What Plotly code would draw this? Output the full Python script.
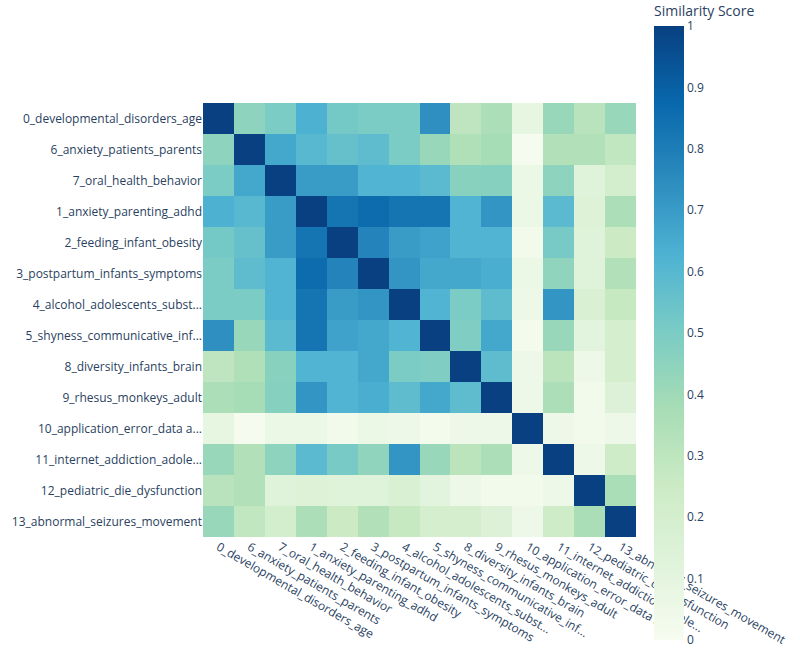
import plotly.graph_objects as go

# Topic labels, in the order they appear on both axes
topics = [
    "0_developmental_disorders_age",
    "6_anxiety_patients_parents",
    "7_oral_health_behavior",
    "1_anxiety_parenting_adhd",
    "2_feeding_infant_obesity",
    "3_postpartum_infants_symptoms",
    "4_alcohol_adolescents_subst...",
    "5_shyness_communicative_inf...",
    "8_diversity_infants_brain",
    "9_rhesus_monkeys_adult",
    "10_application_error_data a...",
    "11_internet_addiction_adole...",
    "12_pediatric_die_dysfunction",
    "13_abnormal_seizures_movement",
]

# Similarity scores (row = y label, column = x label)
similarity = [
    [1.00, 0.45, 0.50, 0.63, 0.52, 0.50, 0.50, 0.74, 0.30, 0.36, 0.09, 0.42, 0.32, 0.42],
    [0.45, 1.00, 0.66, 0.60, 0.56, 0.58, 0.50, 0.42, 0.35, 0.38, 0.01, 0.34, 0.34, 0.29],
    [0.50, 0.66, 1.00, 0.70, 0.70, 0.62, 0.62, 0.59, 0.46, 0.47, 0.06, 0.45, 0.13, 0.21],
    [0.63, 0.60, 0.70, 1.00, 0.83, 0.86, 0.83, 0.83, 0.62, 0.72, 0.06, 0.59, 0.14, 0.36],
    [0.52, 0.56, 0.70, 0.83, 1.00, 0.78, 0.70, 0.68, 0.62, 0.62, 0.03, 0.51, 0.13, 0.25],
    [0.50, 0.58, 0.62, 0.86, 0.78, 1.00, 0.72, 0.66, 0.66, 0.64, 0.06, 0.44, 0.13, 0.34],
    [0.50, 0.50, 0.62, 0.83, 0.70, 0.72, 1.00, 0.62, 0.50, 0.58, 0.05, 0.72, 0.17, 0.27],
    [0.74, 0.42, 0.59, 0.83, 0.68, 0.66, 0.62, 1.00, 0.49, 0.66, 0.02, 0.42, 0.11, 0.20],
    [0.30, 0.35, 0.46, 0.62, 0.62, 0.66, 0.50, 0.49, 1.00, 0.58, 0.05, 0.31, 0.05, 0.20],
    [0.36, 0.38, 0.47, 0.72, 0.62, 0.64, 0.58, 0.66, 0.58, 1.00, 0.05, 0.36, 0.03, 0.15],
    [0.09, 0.01, 0.06, 0.06, 0.03, 0.06, 0.05, 0.02, 0.05, 0.05, 1.00, 0.05, 0.03, 0.05],
    [0.42, 0.34, 0.45, 0.59, 0.51, 0.44, 0.72, 0.42, 0.31, 0.36, 0.05, 1.00, 0.05, 0.23],
    [0.32, 0.34, 0.13, 0.14, 0.13, 0.13, 0.17, 0.11, 0.05, 0.03, 0.03, 0.05, 1.00, 0.37],
    [0.42, 0.29, 0.21, 0.36, 0.25, 0.34, 0.27, 0.20, 0.20, 0.15, 0.05, 0.23, 0.37, 1.00],
]

W, H = 800, 650

fig = go.Figure(go.Heatmap(
    z=similarity,
    x=topics,
    y=topics,
    colorscale="GnBu",
    zmin=0,
    zmax=1,
    colorbar=dict(
        title=dict(text="Similarity Score", side="top", font=dict(size=14)),
        thickness=30,
        lenmode="pixels",
        len=638,
        x=654 / W,
        xanchor="left",
        xpad=0,
        y=1 - 321 / H,
        yanchor="middle",
        ypad=0,
        outlinewidth=0,
        tickvals=[0, 0.1, 0.2, 0.3, 0.4, 0.5, 0.6, 0.7, 0.8, 0.9, 1],
    ),
))

fig.update_layout(
    width=W,
    height=H,
    autosize=False,
    margin=dict(l=0, r=0, t=0, b=0),
    plot_bgcolor="white",
    paper_bgcolor="white",
    font=dict(family="Open Sans", size=12, color="#2a3f5f"),
    xaxis=dict(
        domain=[203 / W, 636 / W],
        tickangle=30,
        showgrid=False,
        zeroline=False,
        automargin=False,
        ticks="",
    ),
    yaxis=dict(
        domain=[1 - 537 / H, 1 - 103 / H],
        autorange="reversed",
        showgrid=False,
        zeroline=False,
        automargin=False,
        ticks="",
    ),
)

# drop the browser's default body margin so the figure sits at the window corner
fig.write_html(
    "out.html",
    config={"displayModeBar": False},
    post_script="document.body.style.margin = '0';",
)
